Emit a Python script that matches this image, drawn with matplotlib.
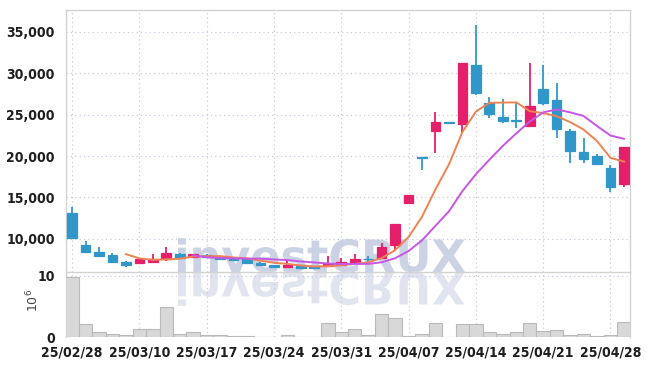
import matplotlib
matplotlib.use("Agg")
import matplotlib.pyplot as plt
import numpy as np
import pandas as pd
from matplotlib.textpath import TextPath
from matplotlib.patches import PathPatch
from matplotlib.font_manager import FontProperties, findfont
from matplotlib.transforms import Affine2D
from matplotlib.ticker import FuncFormatter, FixedLocator

dates = ["25/02/28", "25/03/04", "25/03/05", "25/03/06", "25/03/07",
         "25/03/10", "25/03/11", "25/03/12", "25/03/13", "25/03/14",
         "25/03/17", "25/03/18", "25/03/19", "25/03/20", "25/03/21",
         "25/03/24", "25/03/25", "25/03/26", "25/03/27", "25/03/28",
         "25/03/31", "25/04/01", "25/04/02", "25/04/03", "25/04/04",
         "25/04/07", "25/04/08", "25/04/09", "25/04/10", "25/04/11",
         "25/04/14", "25/04/15", "25/04/16", "25/04/17", "25/04/18",
         "25/04/21", "25/04/22", "25/04/23", "25/04/24", "25/04/25",
         "25/04/28", "25/04/29"]

opens = [13170, 9277, 8470, 8072, 7192, 7144, 7229, 7590, 8229, 7867,
         8072, 7800, 7750, 7590, 7144, 6867, 6663, 6867, 6747, 6710,
         6831, 7192, 7610, 7674, 9241, 14302, 19850, 23050, 24080, 23820,
         31050, 26390, 24700, 24375, 23650, 28075, 26750, 23014, 20480, 20000,
         18555, 16664]
highs = [13820, 9795, 9072, 8277, 7349, 7626, 8157, 9000, 8350, 8229,
         8150, 7850, 7800, 7620, 7200, 6900, 7385, 6900, 6780, 7950,
         7650, 8157, 7950, 9554, 11771, 15266, 19850, 25340, 24080, 31290,
         35870, 27150, 26900, 26425, 31290, 30967, 28880, 23290, 22200, 20200,
         18917, 21086]
lows = [10150, 8400, 7795, 7200, 6626, 7144, 7229, 7349, 7600, 7867,
        7800, 7500, 7450, 7050, 6830, 6560, 6663, 6520, 6480, 6710,
        6831, 7192, 7072, 7600, 8675, 14302, 18315, 20326, 24000, 22930,
        27350, 24545, 23940, 23410, 23650, 26150, 22130, 19120, 19120, 18917,
        15700, 16230]
closes = [10157, 8470, 7988, 7265, 6903, 7626, 7554, 8277, 7675, 8229,
          7830, 7550, 7500, 7072, 6867, 6590, 6867, 6542, 6506, 6988,
          7228, 7626, 7530, 9000, 11771, 15266, 19800, 24098, 24040, 31290,
          27630, 25100, 24255, 24180, 25990, 26425, 23290, 20640, 19675, 19075,
          16230, 21086]
volumes = [9.89, 2.13, 0.82, 0.44, 0.28, 1.31, 1.28, 4.87, 0.49, 0.82,
           0.28, 0.26, 0.11, 0.10, 0.05, 0.03, 0.28, 0.05, 0.05, 2.24,
           0.82, 1.26, 0.28, 3.77, 3.06, 0.11, 0.44, 2.24, 0.02, 2.13,
           2.13, 0.77, 0.44, 0.77, 2.24, 0.98, 1.10, 0.28, 0.44, 0.11,
           0.28, 2.41]

price_ticks = [10000, 15000, 20000, 25000, 30000, 35000]
vol_ticks = [0, 10]
date_tick_idx = [0, 5, 10, 15, 20, 25, 30, 35, 40]

UP = "#e61f6b"
DOWN = "#3197c9"
MA5_C = "#ee8352"
MA10_C = "#c656e6"
GRID_C = "#c5cbdc"
SPINE_C = "#d2d2d2"

# pick a narrow face for tick labels if one is installed
_cond = findfont(FontProperties(family="DejaVu Sans", stretch="condensed"))
if "Condensed" in _cond:
    tick_fp = dict(family="DejaVu Sans", stretch="condensed", weight="bold")
    tick_size = 10.0
else:
    tick_fp = dict(family="Roboto", weight="bold")
    tick_size = 9.6

fig = plt.figure(figsize=(6.47, 3.66), dpi=100)
fig.patch.set_facecolor("white")
ax = fig.add_axes([0.102, 0.2568, 0.8717, 0.7172])
axv = fig.add_axes([0.102, 0.0792, 0.8717, 0.1776], sharex=ax)
for a in (ax, axv):
    a.set_facecolor("none")

x = np.arange(len(dates))
o = np.array(opens, float); c = np.array(closes, float)
h = np.array(highs, float); l = np.array(lows, float)

for i in x:
    col = UP if c[i] >= o[i] else DOWN
    ax.vlines(i, l[i], h[i], color=col, lw=1.3, zorder=3)
    bot = min(o[i], c[i]); ht = abs(c[i] - o[i])
    ax.bar(i, ht, bottom=bot, width=0.72, color=col, edgecolor=col,
           linewidth=0.9, zorder=4)

cs = pd.Series(closes, dtype=float)
ma5 = cs.rolling(5).mean()
ma10 = cs.rolling(10).mean()
ax.plot(x, ma5, color=MA5_C, lw=1.4, zorder=5)
ax.plot(x, ma10, color=MA10_C, lw=1.4, zorder=5)

axv.bar(x, volumes, width=1.0, color="#d8d8d8", edgecolor="#b9b9b9",
        linewidth=0.8, zorder=3)

ax.set_xlim(-0.45, 41.45)
ax.set_ylim(6000, 37700)
axv.set_ylim(0, 10.65)

ax.yaxis.set_major_locator(FixedLocator(price_ticks))
ax.yaxis.set_major_formatter(FuncFormatter(lambda v, p: f"{int(v):,}"))
axv.yaxis.set_major_locator(FixedLocator(vol_ticks))
axv.xaxis.set_major_locator(FixedLocator(date_tick_idx))
axv.set_xticklabels([dates[i] for i in date_tick_idx])
ax.tick_params(axis="x", labelbottom=False, length=0)

for a in (ax, axv):
    a.grid(True, color=GRID_C, linestyle=(0, (1, 2.5)), lw=0.9, zorder=0)
    a.tick_params(length=0, colors="#1e1e1e", labelsize=tick_size)
    for lab in a.get_yticklabels() + a.get_xticklabels():
        lab.set(**tick_fp)
    for s in a.spines.values():
        s.set_color(SPINE_C); s.set_linewidth(1.0)
ax.tick_params(axis="y", pad=8)
axv.tick_params(axis="y", pad=8)
axv.tick_params(axis="x", pad=6)
axv.spines["top"].set_visible(False)
axv.spines["bottom"].set_visible(False)

fig.text(0.051, 0.18, r"$10^6$", rotation=90, ha="center", va="center",
         fontsize=9, color="#444444")

# watermark with reflection
fp = FontProperties(family="DejaVu Sans", weight="bold")
tp = TextPath((0, 0), "investCRUX", size=1, prop=fp)
ext = tp.get_extents()
target_w = 2.87
s = target_w / ext.width
x0 = 1.78 - ext.x0 * s
base = 0.94
wm = PathPatch(tp, transform=Affine2D().scale(s, s).translate(x0, base) + fig.dpi_scale_trans,
               facecolor="#c9d0e3", edgecolor="none", zorder=-1, alpha=0.95)
wr = PathPatch(tp, transform=Affine2D().scale(s, -s).translate(x0, base) + fig.dpi_scale_trans,
               facecolor="#dde2ee", edgecolor="none", zorder=-1, alpha=0.9)
fig.patches.extend([wm, wr])

fig.savefig("out.png", dpi=100)
